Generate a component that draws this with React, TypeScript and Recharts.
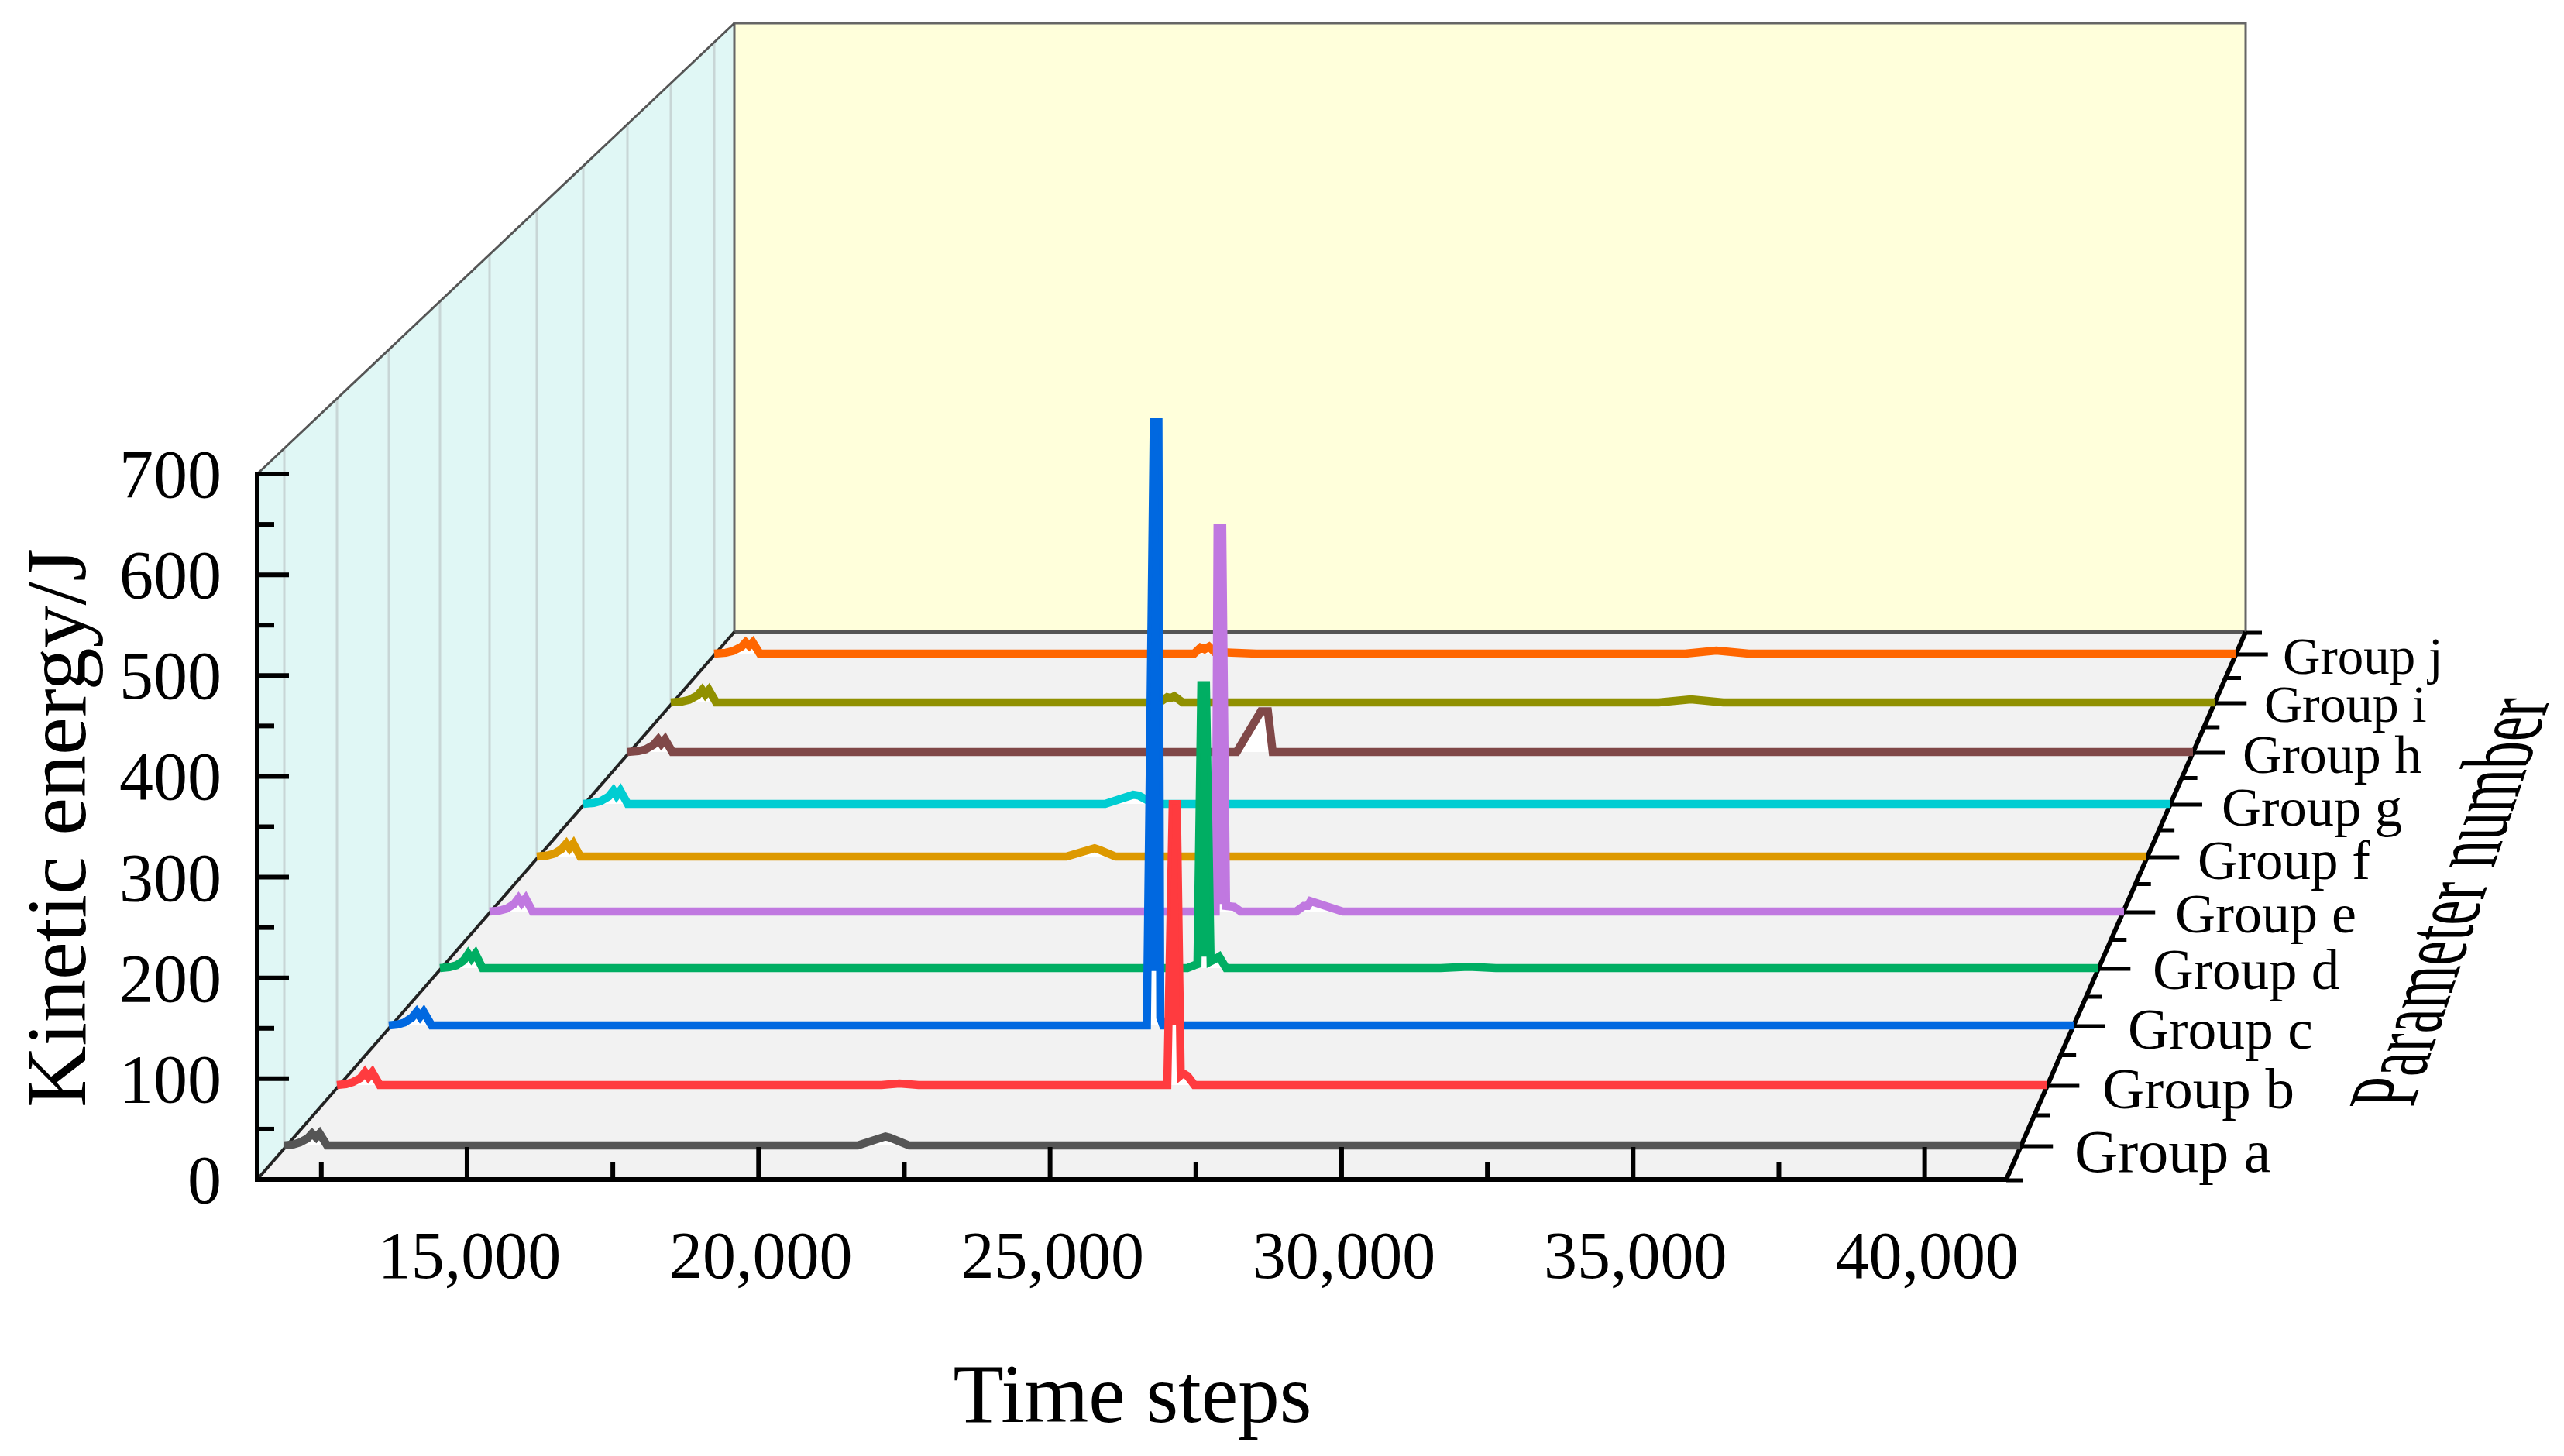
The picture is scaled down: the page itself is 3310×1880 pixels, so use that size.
import { Area, ComposedChart, Customized, XAxis, YAxis } from "recharts"

// [time step, kinetic energy], back to front order is set below
const groupA = [[11400, 0], [11560, 1], [11670, 3], [11800, 7], [11880, 12], [11950, 8], [12010, 12], [12140, 0], [21310, 0], [21790, 9], [21860, 8], [22200, 0], [41400, 0]]
const groupB = [[11400, 0], [11560, 1], [11680, 3], [11810, 7], [11890, 13], [11950, 8], [12020, 13], [12150, 0], [20950, 0], [21265, 1.5], [21600, 0], [25964, 0], [26059, 285], [26131, 285], [26200, 10], [26240, 12], [26322, 9], [26440, 0], [41400, 0]]
const groupC = [[11400, 0], [11560, 1], [11680, 3], [11810, 8], [11895, 14], [11955, 9], [12020, 14], [12160, 0], [24891, 0], [25014, 621], [25097, 621], [25130, 8], [25180, 0], [41400, 0]]
const groupD = [[11400, 0], [11570, 1], [11700, 3], [11830, 8], [11910, 15], [11970, 10], [12040, 15], [12170, 0], [24920, 0], [25050, 3], [25102, 4], [25172, 296], [25256, 296], [25340, 7], [25438, 10], [25495, 12], [25620, 0], [29500, 0], [30005, 1.5], [30500, 0], [41400, 0]]
const groupE = [[11400, 0], [11580, 1], [11710, 3], [11850, 8], [11930, 14], [11990, 9], [12060, 14], [12190, 0], [24728, 0], [24762, 407], [24848, 407], [24919, 6], [25067, 5], [25190, 0], [26203, 0], [26345, 6], [26416, 6], [26469, 11], [27060, 0], [41400, 0]]
const groupF = [[11400, 0], [11590, 1], [11720, 3], [11860, 8], [11950, 14], [12010, 9], [12080, 14], [12210, 0], [21270, 0], [21796, 9], [21898, 7], [22187, 0], [41400, 0]]
const groupG = [[11400, 0], [11600, 1], [11730, 3], [11880, 8], [11970, 14.5], [12030, 9], [12100, 14.5], [12240, 0], [21265, 0], [21795, 10], [21900, 9], [22190, 0], [41400, 0]]
const groupH = [[11400, 0], [11610, 1], [11750, 3], [11900, 8], [11990, 14], [12050, 9], [12120, 14], [12260, 0], [23075, 0], [23539, 45], [23673, 45], [23765, 0], [41400, 0]]
const groupI = [[11400, 0], [11620, 1], [11760, 3], [11920, 8], [12010, 14], [12070, 9], [12140, 14], [12280, 0], [20897, 0], [21047, 6], [21122, 5], [21182, 7], [21348, 0], [30600, 0], [31221, 3.5], [31850, 0], [41400, 0]]
const groupJ = [[11400, 0], [11630, 1], [11770, 3], [11940, 8], [12020, 13], [12090, 9], [12160, 13], [12300, 0], [20863, 0], [20989, 7], [21070, 5], [21157, 8], [21265, 2], [21600, 1], [22090, 0], [30550, 0], [31160, 3.5], [31800, 0], [41400, 0]]

// the spikes are solid above the small notch at their foot
const coreB = [[25984, 61], [26059, 285], [26131, 285], [26187, 61]]
const coreC = [[24902, 56], [25014, 621], [25097, 621], [25127, 56]]
const coreD = [[25105, 12], [25172, 296], [25256, 296], [25337, 12]]
const coreE = [[24729, 8], [24762, 407], [24848, 407], [24917, 8]]

const groupValues = [groupA, groupB, groupC, groupD, groupE, groupF, groupG, groupH, groupI, groupJ]
const groupCores = [null, coreB, coreC, coreD, coreE, null, null, null, null, null]
const groupNames = ["Group a", "Group b", "Group c", "Group d", "Group e", "Group f", "Group g", "Group h", "Group i", "Group j"]
const groupColors = ["#555555", "#ff3b3f", "#0068e0", "#00ae63", "#c078e0", "#dd9900", "#00cdd2", "#804848", "#909000", "#ff6600"]

const timeTicks = [12500, 15000, 17500, 20000, 22500, 25000, 27500, 30000, 32500, 35000, 37500, 40000]
const energyTicks = [0, 50, 100, 150, 200, 250, 300, 350, 400, 450, 500, 550, 600, 650, 700]
// invisible, only so the front axes have something to scale
const frontGuide = [{ time: 11400, energy: 0 }, { time: 41400, energy: 700 }]

// where each group sits in the waterfall, in page pixels
const baseYs = [1479, 1401, 1324, 1250, 1177, 1106, 1038, 971, 907, 844]
const leftXs = [367, 435, 502, 568, 632, 693, 753, 810, 866, 922]
const rightXs = [2608, 2643, 2678, 2709, 2742, 2771, 2802, 2831, 2859, 2886]
const labelXs = [2678, 2714, 2747, 2779, 2808, 2837, 2868, 2895, 2923, 2947]
const labelYs = [1513, 1431, 1354, 1277, 1204, 1135, 1066, 998, 932, 870]
const labelSizes = [78, 75, 73.5, 73, 72, 71, 70.5, 70, 68, 67]

const FONT = "'Liberation Serif', 'Times New Roman', serif"
const AXIS_X = 332
const AXIS_Y = 1523
const FRONT_RIGHT = 2590
const BACK_LEFT = 948
const BACK_RIGHT = 2899
const BACK_Y = 816
const PLOT_RIGHT = BACK_RIGHT
const FRONT_TOP = 612
const BACK_TOP = 30
const FRONT_WIDTH = FRONT_RIGHT - AXIS_X
const FRONT_HEIGHT = AXIS_Y - FRONT_TOP

function toRows(points: number[][]) {
  return points.map(([time, energy]) => ({ time, energy }))
}

function TimeTick({ x, payload }: any) {
  const major = payload.value % 5000 === 0
  return (
    <g>
      <line x1={x} x2={x} y1={AXIS_Y} y2={AXIS_Y - (major ? 42 : 22)} stroke="#000" strokeWidth={6} />
      {major && (
        <text x={x + 3} y={1650} textAnchor="middle" fontFamily={FONT} fontSize={86} fill="#000">
          {payload.value.toLocaleString("en-US")}
        </text>
      )}
    </g>
  )
}

function EnergyTick({ y, payload }: any) {
  const major = payload.value % 100 === 0
  return (
    <g>
      <line x1={AXIS_X} x2={AXIS_X + (major ? 41 : 22)} y1={y} y2={y} stroke="#000" strokeWidth={6} />
      {major && (
        <text x={286} y={y + 30} textAnchor="end" fontFamily={FONT} fontSize={88} fill="#000">
          {payload.value}
        </text>
      )}
    </g>
  )
}

function edgeX(y: number) {
  return FRONT_RIGHT + ((AXIS_Y - y) / (AXIS_Y - BACK_Y)) * (BACK_RIGHT - FRONT_RIGHT)
}

function Walls() {
  const depthEdges = [AXIS_Y, ...baseYs, BACK_Y]
  return (
    <g>
      <polygon points={`${AXIS_X},${FRONT_TOP} ${BACK_LEFT},${BACK_TOP} ${BACK_LEFT},${BACK_Y} ${AXIS_X},${AXIS_Y}`} fill="#e0f7f5" />
      <polygon points={`${AXIS_X},${AXIS_Y} ${BACK_LEFT},${BACK_Y} ${BACK_RIGHT},${BACK_Y} ${FRONT_RIGHT},${AXIS_Y}`} fill="#f2f2f2" />
      <rect x={BACK_LEFT} y={BACK_TOP} width={BACK_RIGHT - BACK_LEFT} height={BACK_Y - BACK_TOP} fill="#ffffdb" stroke="#666" strokeWidth={3} />
      {leftXs.map((x) => {
        const t = (x - AXIS_X) / (BACK_LEFT - AXIS_X)
        return (
          <line key={x} x1={x} x2={x} stroke="#c8d6d6" strokeWidth={3}
            y1={FRONT_TOP + t * (BACK_TOP - FRONT_TOP)} y2={AXIS_Y + t * (BACK_Y - AXIS_Y)} />
        )
      })}
      <line x1={AXIS_X} y1={FRONT_TOP} x2={BACK_LEFT} y2={BACK_TOP} stroke="#555" strokeWidth={3} />
      <line x1={BACK_LEFT} y1={BACK_Y} x2={BACK_RIGHT} y2={BACK_Y} stroke="#555" strokeWidth={5} />
      <line x1={AXIS_X} y1={AXIS_Y} x2={BACK_LEFT} y2={BACK_Y} stroke="#222" strokeWidth={4} />

      <line x1={AXIS_X} y1={FRONT_TOP - 3} x2={AXIS_X} y2={AXIS_Y + 3} stroke="#000" strokeWidth={6} />
      <line x1={AXIS_X - 3} y1={AXIS_Y} x2={FRONT_RIGHT} y2={AXIS_Y} stroke="#000" strokeWidth={6} />
      <line x1={FRONT_RIGHT} y1={AXIS_Y} x2={BACK_RIGHT} y2={BACK_Y} stroke="#000" strokeWidth={6} />

      {depthEdges.map((y, i) => {
        const named = i > 0 && i <= baseYs.length
        return (
          <g key={y}>
            <line x1={edgeX(y)} x2={edgeX(y) + (named ? 41 : 21)} y1={y + 1} y2={y + 1} stroke="#000" strokeWidth={5} />
            {i < depthEdges.length - 2 && i > 0 && (
              <line x1={edgeX((y + depthEdges[i + 1]) / 2)} x2={edgeX((y + depthEdges[i + 1]) / 2) + 20}
                y1={(y + depthEdges[i + 1]) / 2} y2={(y + depthEdges[i + 1]) / 2} stroke="#000" strokeWidth={5} />
            )}
          </g>
        )
      })}
    </g>
  )
}

function Titles() {
  return (
    <g fontFamily={FONT} fill="#000">
      {groupNames.map((name, i) => (
        <text key={name} x={labelXs[i]} y={labelYs[i]} fontSize={labelSizes[i]}>{name}</text>
      ))}
      <text transform="translate(110 1069) rotate(-90)" textAnchor="middle" fontSize={110}>Kinetic energy/J</text>
      <text x={1462} y={1836} textAnchor="middle" fontSize={107}>Time steps</text>
      <text transform="matrix(0.333 -0.99 1.727 0 3115 1430)" fontSize={72.6}>Parameter number</text>
    </g>
  )
}

export default function App() {
  const order = groupValues.map((_, i) => i).reverse()
  return (
    <div style={{ position: "absolute", left: 0, top: 0, width: 3310, height: 1880, background: "#fff" }}>
      <ComposedChart width={3310} height={1880} margin={{ top: 0, right: 3310 - PLOT_RIGHT, bottom: 0, left: 0 }}>
        <Customized component={Walls} />
        <XAxis
          xAxisId="front"
          type="number"
          dataKey="time"
          domain={[11400, 41400]}
          ticks={timeTicks}
          interval={0}
          height={1880 - AXIS_Y}
          padding={{ left: 0, right: PLOT_RIGHT - FRONT_RIGHT }}
          axisLine={false}
          tickLine={false}
          tickMargin={0}
          tick={TimeTick}
        />
        <YAxis
          yAxisId="front"
          type="number"
          domain={[0, 700]}
          ticks={energyTicks}
          interval={0}
          width={AXIS_X}
          padding={{ top: FRONT_TOP, bottom: 0 }}
          axisLine={false}
          tickLine={false}
          tickMargin={0}
          tick={EnergyTick}
        />
        <Area
          xAxisId="front"
          yAxisId="front"
          data={frontGuide}
          dataKey="energy"
          type="linear"
          stroke="none"
          fill="none"
          dot={false}
          activeDot={false}
          isAnimationActive={false}
        />
        {groupNames.map((name, i) => (
          <XAxis
            key={name}
            xAxisId={name}
            hide
            type="number"
            dataKey="time"
            domain={[11400, 41400]}
            padding={{ left: leftXs[i] - AXIS_X, right: PLOT_RIGHT - rightXs[i] }}
          />
        ))}
        {groupNames.map((name, i) => {
          const height = (FRONT_HEIGHT * (rightXs[i] - leftXs[i])) / FRONT_WIDTH
          return (
            <YAxis
              key={name}
              yAxisId={name}
              hide
              type="number"
              domain={[0, 700]}
              padding={{ top: baseYs[i] - height, bottom: AXIS_Y - baseYs[i] }}
            />
          )
        })}
        {order.flatMap((i) => {
          const core = groupCores[i]
          const series = [
            <Area
              key={groupNames[i]}
              xAxisId={groupNames[i]}
              yAxisId={groupNames[i]}
              data={toRows(groupValues[i])}
              dataKey="energy"
              name={groupNames[i]}
              type="linear"
              baseValue={0}
              stroke={groupColors[i]}
              strokeWidth={10.5}
              fill="#ffffff"
              fillOpacity={1}
              dot={false}
              activeDot={false}
              isAnimationActive={false}
            />,
          ]
          if (core) {
            series.push(
              <Area
                key={`${groupNames[i]} core`}
                xAxisId={groupNames[i]}
                yAxisId={groupNames[i]}
                data={toRows(core)}
                dataKey="energy"
                type="linear"
                baseValue={core[0][1]}
                stroke="none"
                fill={groupColors[i]}
                fillOpacity={1}
                dot={false}
                activeDot={false}
                isAnimationActive={false}
              />,
            )
          }
          return series
        })}
        <Customized component={Titles} />
      </ComposedChart>
    </div>
  )
}
